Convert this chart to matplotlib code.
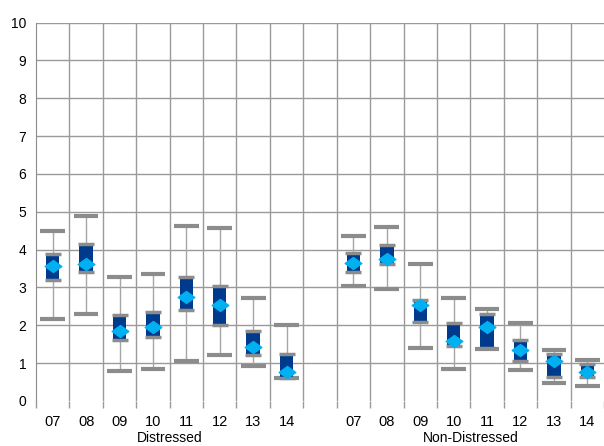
import matplotlib
matplotlib.use('Agg')
import matplotlib.pyplot as plt
from matplotlib.path import Path

plt.rcParams['font.family'] = ['Liberation Sans', 'DejaVu Sans']

# Datos
anos = ['07', '08', '09', '10', '11', '12', '13', '14']
grupos = ['Distressed', 'Non-Distressed']

dist_max = [4.49, 4.88, 3.27, 3.36, 4.63, 4.56, 2.73, 2.01]
dist_q3 = [3.88, 4.14, 2.26, 2.35, 3.28, 3.03, 1.84, 1.23]
dist_q1 = [3.21, 3.40, 1.60, 1.69, 2.40, 2.00, 1.22, 0.62]
dist_min = [2.17, 2.30, 0.80, 0.85, 1.06, 1.22, 0.93, 0.60]
dist_media = [3.57, 3.62, 1.84, 1.95, 2.74, 2.54, 1.43, 0.77]

nd_max = [4.36, 4.60, 3.61, 2.73, 2.44, 2.07, 1.35, 1.08]
nd_q3 = [3.92, 4.11, 2.68, 2.05, 2.29, 1.60, 1.23, 0.97]
nd_q1 = [3.42, 3.63, 2.08, 1.44, 1.39, 1.06, 0.63, 0.63]
nd_min = [3.05, 2.96, 1.41, 0.84, 1.38, 0.83, 0.47, 0.40]
nd_media = [3.64, 3.75, 2.54, 1.59, 1.96, 1.35, 1.05, 0.77]

fig = plt.figure(figsize=(6.04, 4.46), dpi=100)
ax = fig.add_axes([36 / 604, 45 / 446, 568 / 604, 378.5 / 446])

losango = Path([(-1, 0), (0, 0.72), (1, 0), (0, -0.72), (-1, 0)],
               [Path.MOVETO, Path.LINETO, Path.LINETO, Path.LINETO, Path.CLOSEPOLY])

def desenhar(xs, mx, q3, q1, mn, media):
    for x, a, b, c, d in zip(xs, mx, q3, q1, mn):
        ax.vlines(x, d, a, color='#a6a6a6', lw=1.0, zorder=3)
        ax.hlines([a, d], x - 0.37, x + 0.37, color='#8c8c8c', lw=3, zorder=4)
        ax.bar(x, b - c, bottom=c, width=0.4, color='#003a8c', zorder=5)
        ax.hlines([b, c], x - 0.24, x + 0.24, color='#8c8c8c', lw=2.5, zorder=6)
    ax.plot(xs, media, ls='none', marker=losango, ms=12, color='#00b0f0',
            mec='#00b0f0', zorder=7)

pos_d = [i + 0.5 for i in range(len(anos))]
pos_n = [i + 9.5 for i in range(len(anos))]
desenhar(pos_d, dist_max, dist_q3, dist_q1, dist_min, dist_media)
desenhar(pos_n, nd_max, nd_q3, nd_q1, nd_min, nd_media)

ax.set_xlim(0, 17)
ax.set_ylim(0, 10)
ax.set_yticks(range(0, 11))
ax.tick_params(axis='y', length=0, labelsize=10, pad=7)

ax.set_xticks(pos_d + pos_n)
ax.set_xticklabels(anos + anos, fontsize=10.5)
ax.tick_params(axis='x', length=0, pad=10)
ax.set_xticks(range(0, 18), minor=True)
ax.tick_params(axis='x', which='minor', length=5, color='#9a9a9a', width=1)

for y in range(1, 11):
    ax.axhline(y, color='#9a9a9a', lw=1, zorder=1)
for x in range(1, 17):
    ax.axvline(x, color='#9a9a9a', lw=1, zorder=1)

for lado in ['top', 'right', 'bottom']:
    ax.spines[lado].set_visible(False)
ax.spines['left'].set_color('#8c8c8c')

ax.text(4, -0.97, grupos[0], ha='center', va='center', fontsize=10)
ax.text(13, -0.97, grupos[1], ha='center', va='center', fontsize=10)

fig.savefig('out.png', dpi=100)
